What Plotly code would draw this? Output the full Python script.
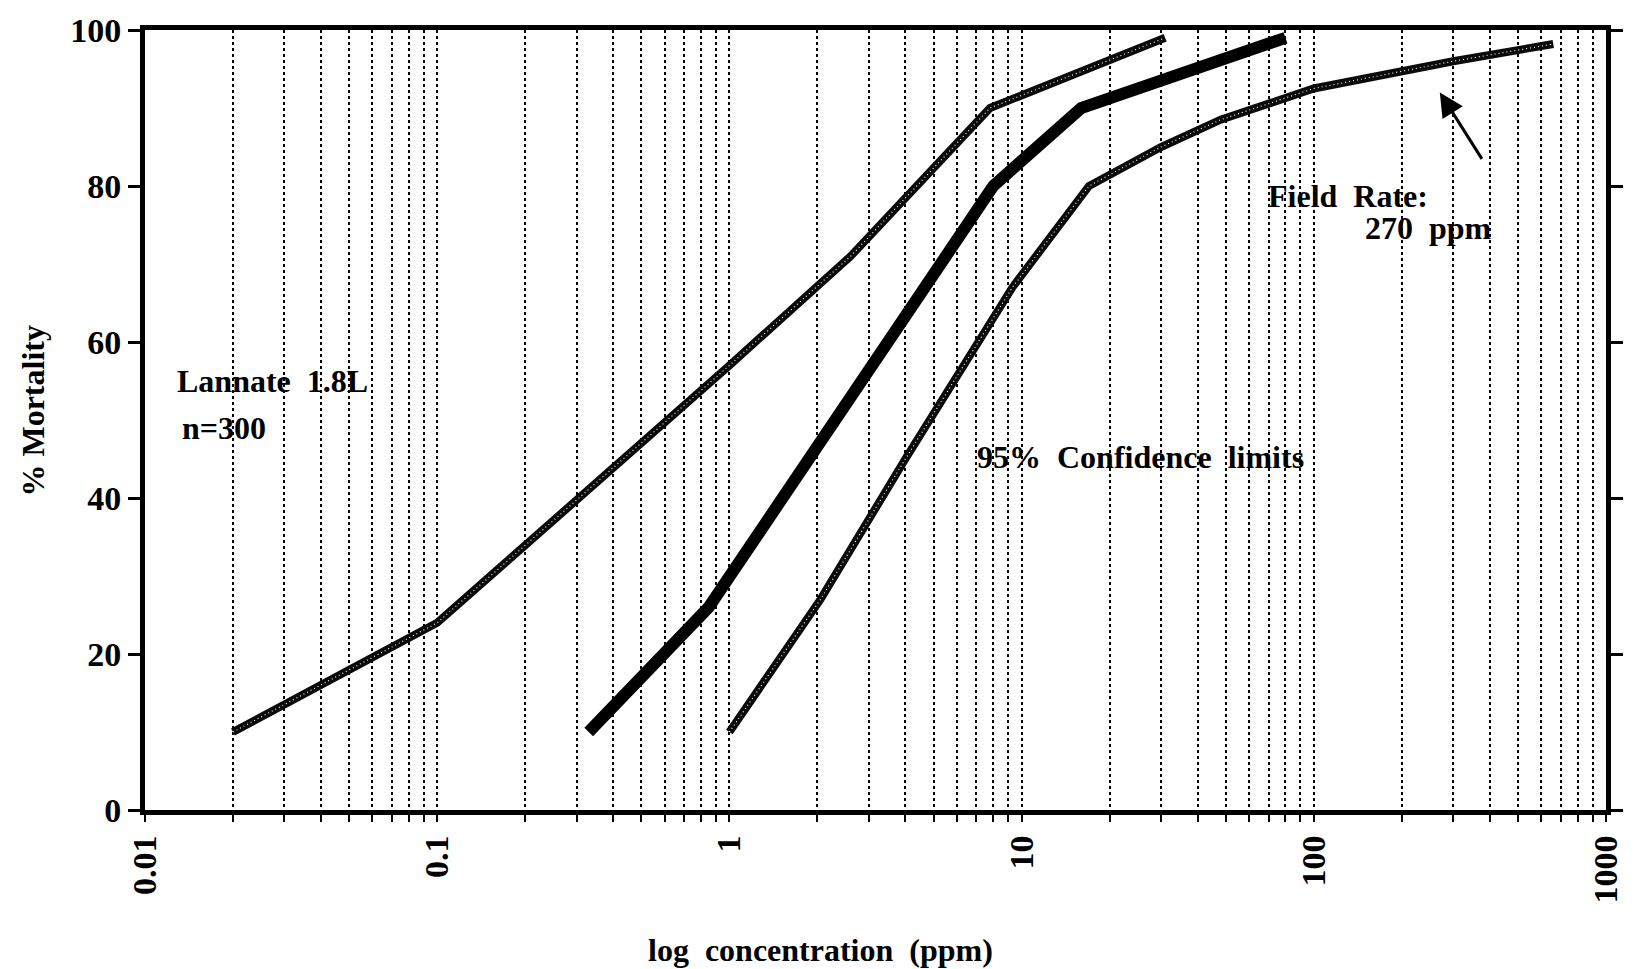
import math
import plotly.graph_objects as go

# Dose-response line (probit fit) and its 95% confidence limits
conc_main = [0.33, 0.85, 8.0, 16.0, 80.0]
mort_main = [10, 26, 80, 90, 99]

conc_upper = [0.02, 0.1, 1.0, 2.6, 7.8, 31.0]
mort_upper = [10, 24, 57, 71, 90, 99]

conc_lower = [1.0, 2.05, 4.0, 9.3, 17.0, 30.0, 48.0, 100.0, 300.0, 660.0]
mort_lower = [10, 27, 45, 67, 80, 85, 88.5, 92.5, 96, 98.2]

field_rate = 270
field_rate_mort = 92

decades = [0.01, 0.1, 1, 10, 100, 1000]
decade_labels = ["0.01", "0.1", "1", "10", "100", "1000"]
y_ticks = [0, 20, 40, 60, 80, 100]

FONT = "Liberation Serif"

# every 1..9 multiple inside each decade gets a dotted grid line
tickvals, ticktext = [], []
for d, lab in zip(decades, decade_labels):
    tickvals.append(d)
    ticktext.append(lab)
    if d < 1000:
        for m in range(2, 10):
            tickvals.append(d * m)
            ticktext.append("")

fig = go.Figure()


def hatched(x, y):
    # dark ribbon with a light dotted core, giving the hatched look
    fig.add_trace(go.Scatter(x=x, y=y, mode="lines",
                             line=dict(color="#0a0a0a", width=8),
                             hoverinfo="skip", showlegend=False))
    fig.add_trace(go.Scatter(x=x, y=y, mode="lines",
                             line=dict(color="white", width=1.1, dash="1px,3px"),
                             hoverinfo="skip", showlegend=False))


hatched(conc_upper, mort_upper)
hatched(conc_lower, mort_lower)
fig.add_trace(go.Scatter(x=conc_main, y=mort_main, mode="lines",
                         line=dict(color="black", width=12),
                         hoverinfo="skip", showlegend=False))

bold = dict(family=FONT, size=32, color="black")

fig.update_layout(
    width=1636, height=969,
    margin=dict(l=145, r=23, t=30, b=159),
    paper_bgcolor="white", plot_bgcolor="white",
    showlegend=False,
    font=dict(family=FONT, color="black"),
    xaxis=dict(
        type="log", range=[-2, 3],
        tickvals=tickvals, ticktext=ticktext, tickangle=-90,
        tickfont=dict(family=FONT, size=34, color="black", weight="bold"),
        ticks="outside", ticklen=7, tickwidth=2, tickcolor="black",
        showgrid=True, gridcolor="black", gridwidth=2, griddash="dot",
        showline=True, linecolor="black", linewidth=5, mirror=True,
        zeroline=False,
    ),
    yaxis=dict(
        range=[0, 100], tickvals=y_ticks,
        tickfont=dict(family=FONT, size=34, color="black", weight="bold"),
        ticks="outside", ticklen=12, tickwidth=3, tickcolor="black",
        showgrid=False, zeroline=False,
        showline=True, linecolor="black", linewidth=5, mirror="ticks",
    ),
)


def px_x(px):
    return (px - 145) / 1468


def px_y(px):
    return (810 - px) / 780


annotations = [
    dict(text="<b>Lannate  1.8L</b>", x=px_x(175), y=px_y(381), xanchor="left"),
    dict(text="<b>n=300</b>", x=px_x(180), y=px_y(428), xanchor="left"),
    dict(text="<b>95%  Confidence  limits</b>", x=px_x(979), y=px_y(457), xanchor="left"),
    dict(text="<b>Field  Rate:</b>", x=px_x(1271), y=px_y(196), xanchor="left"),
    dict(text="<b>270  ppm</b>", x=px_x(1369), y=px_y(228), xanchor="left"),
    dict(text="<b>log  concentration  (ppm)</b>", x=px_x(824), y=px_y(950), xanchor="center"),
    dict(text="<b>% Mortality</b>", x=px_x(32), y=px_y(411), xanchor="center", textangle=-90),
]
for a in annotations:
    fig.add_annotation(xref="paper", yref="paper", yanchor="middle",
                       showarrow=False, font=bold, **a)

# arrow pointing at the field application rate
fig.add_annotation(x=math.log10(field_rate), y=field_rate_mort, xref="x", yref="y",
                   text="", showarrow=True, ax=43, ay=68,
                   arrowhead=2, arrowsize=1.6, arrowwidth=3, arrowcolor="black")

fig.write_html("out.html")
